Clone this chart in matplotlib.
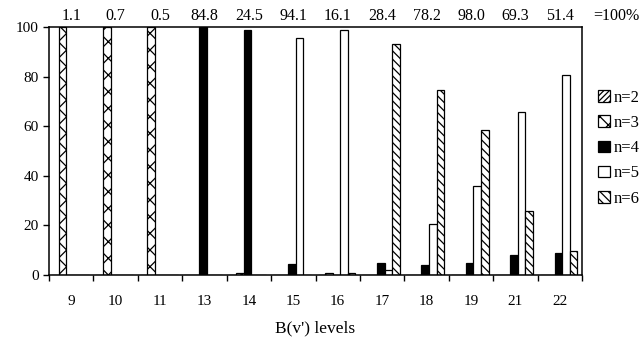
import numpy as np
import matplotlib
matplotlib.use("Agg")
import matplotlib.pyplot as plt
from matplotlib.patches import Patch
from matplotlib.transforms import blended_transform_factory

plt.rcParams['font.family'] = ['Liberation Serif', 'DejaVu Serif']
plt.rcParams['hatch.linewidth'] = 0.9

levels = ['9', '10', '11', '13', '14', '15', '16', '17', '18', '19', '21', '22']
totals = ['1.1', '0.7', '0.5', '84.8', '24.5', '94.1', '16.1', '28.4', '78.2', '98.0', '69.3', '51.4']
series = ['n=2', 'n=3', 'n=4', 'n=5', 'n=6']

n2 = [0, 0, 0, 0, 0, 0, 0, 0, 0, 0, 0, 0]
n3 = [100, 100, 100, 0, 1, 0, 1, 0, 0, 0, 0, 0]
n4 = [0, 0, 0, 100, 99, 4.3, 0, 5, 4, 4.8, 7.9, 9]
n5 = [0, 0, 0, 0, 0, 95.5, 98.8, 2, 20.8, 36, 65.6, 80.6]
n6 = [0, 0, 0, 0, 0, 0, 1, 93, 74.6, 58.7, 25.7, 9.8]

values = [n2, n3, n4, n5, n6]
faces = ['white', 'white', 'black', 'white', 'white']
hatches = ['//////', 'xx', None, None, '\\\\\\\\']

fig = plt.figure(figsize=(6.43, 3.43), dpi=100)
ax = fig.add_axes([0.0762, 0.198, 0.829, 0.723])

x = np.arange(len(levels))
w = 0.17
for i, (vals, fc, h) in enumerate(zip(values, faces, hatches)):
    ax.bar(x + (i - 2) * w - 0.03, vals, width=w, color=fc, edgecolor='black',
           linewidth=0.9, hatch=h)

ax.set_xlim(-0.5, len(levels) - 0.5)
ax.set_ylim(0, 100)
ax.set_yticks(np.arange(0, 101, 20))
ax.set_xticks(x)
ax.set_xticklabels(levels)
ax.set_xticks(np.arange(-0.5, len(levels), 1.0), minor=True)
ax.tick_params(axis='x', which='major', length=0, pad=14, labelsize=11)
ax.tick_params(axis='x', which='minor', length=4, direction='out', width=1)
ax.tick_params(axis='y', length=4, direction='out', width=1, labelsize=11)
for s in ax.spines.values():
    s.set_linewidth(1.1)

ax.set_xlabel("B(v') levels", fontsize=12.5, labelpad=9)

trans = blended_transform_factory(ax.transData, ax.transAxes)
for xi, t in zip(x, totals):
    ax.text(xi, 1.012, t, transform=trans, ha='center', va='bottom', fontsize=11.5)
ax.text(1.02, 1.012, '=100%', transform=ax.transAxes, ha='left', va='bottom', fontsize=11.5)

handles = [Patch(facecolor=fc, edgecolor='black', hatch=h, linewidth=0.9)
           for fc, h in zip(faces, hatches)]
fig.legend(handles, series, loc='upper left', bbox_to_anchor=(0.93, 0.738),
           frameon=False, fontsize=12, handlelength=0.7, handleheight=0.7,
           handletextpad=0.25, labelspacing=0.55, borderaxespad=0, borderpad=0)

fig.savefig('out.png', dpi=100)
